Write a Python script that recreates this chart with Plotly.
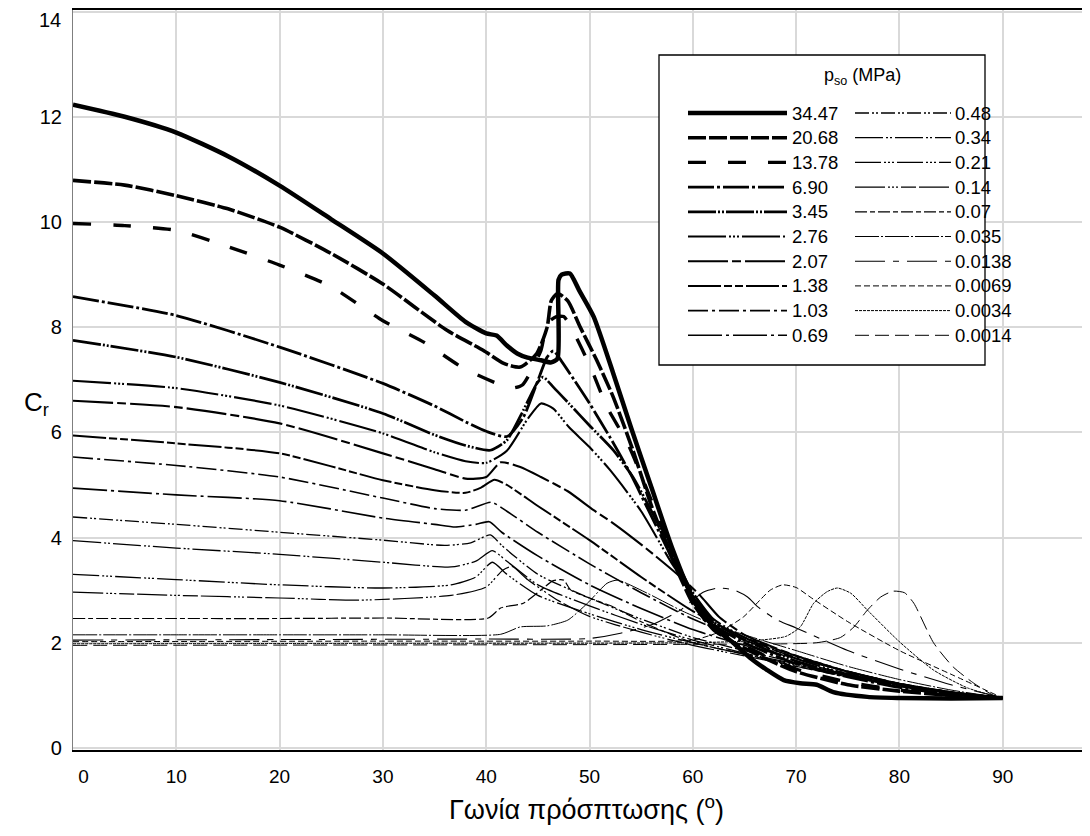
import plotly.graph_objects as go

# ---------------- data ----------------
labels = ["34.47", "20.68", "13.78", "6.90", "3.45", "2.76", "2.07", "1.38", "1.03", "0.69",
          "0.48", "0.34", "0.21", "0.14", "0.07", "0.035", "0.0138", "0.0069", "0.0034", "0.0014"]

x_3447 = [0, 5, 10, 15, 20, 25, 30, 35, 38, 40, 41, 42, 43, 44, 45.3, 46.3, 46.9, 47.0, 47.3, 48.1, 49, 50.4, 52.3, 54, 56, 58, 60, 62, 63.9, 65.5, 67.2, 68.8, 70.4, 72, 73.6, 76.9, 80, 85, 90]
y_3447 = [12.23, 12.0, 11.7, 11.25, 10.69, 10.05, 9.4, 8.6, 8.1, 7.88, 7.84, 7.65, 7.5, 7.42, 7.37, 7.33, 7.4, 8.9, 9.0, 9.02, 8.7, 8.2, 7.12, 6.1, 4.95, 3.8, 2.85, 2.3, 2.0, 1.72, 1.48, 1.29, 1.23, 1.2, 1.06, 0.97, 0.95, 0.94, 0.95]

x_2068 = [0, 5, 10, 15, 20, 25, 30, 36.2, 39.7, 41.7, 43.3, 44.9, 45.9, 46.3, 46.9, 47.9, 49.1, 50.7, 52.3, 54.2, 56, 58, 60, 62, 64, 67, 70, 75, 80, 85, 90]
y_2068 = [10.79, 10.7, 10.5, 10.25, 9.9, 9.4, 8.82, 7.94, 7.56, 7.31, 7.24, 7.5, 8.0, 8.5, 8.64, 8.5, 8.0, 7.37, 6.67, 5.66, 4.6, 3.6, 2.75, 2.25, 2.0, 1.7, 1.45, 1.2, 1.08, 1.0, 0.95]

x_1378 = [0, 5, 10, 15, 20, 25, 30, 34, 37.8, 41.4, 42.5, 43.5, 45.3, 45.9, 46.8, 47.5, 48.2, 50.1, 51.7, 53.7, 56, 58, 60, 62, 64, 67, 70, 75, 80, 85, 90]
y_1378 = [9.97, 9.93, 9.84, 9.53, 9.18, 8.77, 8.12, 7.71, 7.22, 6.9, 6.84, 6.9, 7.56, 8.07, 8.2, 8.2, 8.0, 7.24, 6.48, 5.79, 4.7, 3.7, 2.8, 2.3, 2.05, 1.75, 1.5, 1.25, 1.1, 1.0, 0.95]

x_690 = [0, 10, 20, 30, 35, 38, 40, 42, 43.6, 44.9, 45.9, 46.5, 47.3, 48.5, 50, 52, 54, 56, 58, 60, 62, 65, 70, 75, 80, 85, 90]
y_690 = [8.58, 8.22, 7.62, 6.93, 6.5, 6.2, 6.02, 5.92, 6.29, 6.93, 7.43, 7.55, 7.35, 7.0, 6.55, 5.9, 5.2, 4.4, 3.6, 2.85, 2.35, 2.0, 1.6, 1.35, 1.15, 1.02, 0.95]

x_345 = [0, 10, 20, 30, 35, 38, 40.4, 42, 43.6, 44.9, 45.5, 46.5, 48, 50, 52.3, 54.2, 56, 58, 60, 62, 65, 70, 75, 80, 85, 90]
y_345 = [7.75, 7.43, 6.95, 6.36, 5.95, 5.75, 5.66, 5.85, 6.42, 6.93, 7.05, 6.86, 6.55, 6.13, 5.66, 5.15, 4.5, 3.7, 2.95, 2.4, 2.05, 1.65, 1.38, 1.18, 1.04, 0.95]

x_276 = [0, 10, 20, 30, 35, 38, 40, 42, 44, 45.3, 46.5, 48, 50, 52, 55, 58, 60, 62, 65, 70, 75, 80, 85, 90]
y_276 = [6.98, 6.84, 6.51, 5.98, 5.62, 5.45, 5.42, 5.65, 6.25, 6.55, 6.45, 6.1, 5.72, 5.28, 4.5, 3.5, 2.95, 2.45, 2.1, 1.7, 1.4, 1.2, 1.05, 0.95]

x_207 = [0, 10, 20, 30, 35, 38, 40, 41.4, 43.3, 45.3, 47.9, 50.4, 52.3, 54.2, 56.5, 58.8, 60.7, 62.5, 65, 70, 75, 80, 85, 90]
y_207 = [6.6, 6.48, 6.17, 5.6, 5.3, 5.12, 5.15, 5.43, 5.34, 5.15, 4.88, 4.52, 4.27, 3.99, 3.63, 3.25, 2.9, 2.5, 2.15, 1.75, 1.45, 1.22, 1.06, 0.95]

x_138 = [0, 10, 20, 30, 35, 38, 39.5, 40.8, 42, 45, 50, 55, 60, 65, 70, 75, 80, 85, 90]
y_138 = [5.94, 5.79, 5.6, 5.09, 4.9, 4.85, 4.95, 5.1, 5.0, 4.6, 3.95, 3.25, 2.6, 2.1, 1.75, 1.45, 1.22, 1.06, 0.95]

x_103 = [0, 10, 20, 30, 35, 38, 40.5, 42, 45, 50, 55, 60, 65, 70, 75, 80, 85, 90]
y_103 = [5.53, 5.37, 5.15, 4.75, 4.55, 4.52, 4.67, 4.5, 4.1, 3.5, 2.95, 2.45, 2.05, 1.72, 1.45, 1.22, 1.06, 0.95]

x_069 = [0, 10, 20, 30, 35, 37, 39, 40.3, 41.5, 45, 50, 55, 60, 65, 70, 75, 80, 85, 90]
y_069 = [4.94, 4.81, 4.7, 4.37, 4.25, 4.2, 4.25, 4.3, 4.1, 3.65, 3.1, 2.65, 2.25, 1.95, 1.7, 1.45, 1.22, 1.06, 0.95]

x_048 = [0, 10, 20, 30, 36, 38.5, 40.4, 41.5, 45, 50, 55, 60, 65, 70, 75, 80, 85, 90]
y_048 = [4.39, 4.25, 4.1, 3.95, 3.85, 3.9, 4.05, 3.85, 3.3, 2.85, 2.45, 2.1, 1.85, 1.62, 1.42, 1.2, 1.05, 0.95]

x_034 = [0, 10, 20, 30, 36.6, 39, 40.6, 42, 45, 50, 55, 60, 65, 70, 75, 80, 85, 90]
y_034 = [3.94, 3.8, 3.68, 3.53, 3.44, 3.55, 3.75, 3.55, 3.1, 2.7, 2.35, 2.05, 1.8, 1.6, 1.4, 1.2, 1.05, 0.95]

x_021 = [0, 10, 20, 30, 36.6, 39, 40.6, 42, 45, 50, 55, 60, 65, 70, 75, 80, 85, 90]
y_021 = [3.30, 3.2, 3.1, 3.04, 3.1, 3.25, 3.53, 3.3, 2.9, 2.55, 2.25, 2.0, 1.78, 1.58, 1.38, 1.2, 1.05, 0.95]

x_014 = [0, 10, 20, 27.8, 36.6, 40, 41.6, 42.5, 44, 47, 50, 55, 60, 65, 70, 75, 80, 85, 90]
y_014 = [2.96, 2.9, 2.85, 2.81, 2.9, 3.06, 3.38, 3.45, 3.2, 2.8, 2.5, 2.2, 1.95, 1.75, 1.55, 1.37, 1.2, 1.05, 0.95]

x_007 = [0, 10, 20, 30, 40.2, 41.4, 43.6, 45.3, 46.5, 47.5, 48.2, 52.3, 55, 58, 60, 65, 70, 75, 80, 85, 90]
y_007 = [2.46, 2.46, 2.46, 2.47, 2.47, 2.66, 2.75, 3.0, 3.18, 3.19, 3.0, 2.68, 2.4, 2.15, 2.0, 1.78, 1.55, 1.35, 1.18, 1.05, 0.95]

x_0035 = [0, 10, 20, 30, 41.4, 43.3, 45.9, 47.9, 49.8, 51.7, 52.7, 55.6, 58.8, 61.7, 65, 70, 75, 80, 85, 90]
y_0035 = [2.15, 2.15, 2.15, 2.15, 2.16, 2.3, 2.32, 2.43, 2.75, 3.13, 3.19, 2.94, 2.62, 2.37, 2.15, 1.85, 1.55, 1.3, 1.1, 0.95]

x_00138 = [0, 20, 40, 50, 53, 56, 58.8, 60, 61, 62.4, 64, 65.3, 66.3, 68, 70, 75, 80, 85, 90]
y_00138 = [2.05, 2.06, 2.07, 2.08, 2.18, 2.34, 2.62, 2.81, 2.96, 3.04, 3.0, 2.87, 2.68, 2.45, 2.28, 1.85, 1.5, 1.2, 0.95]

x_00069 = [0, 30, 50, 60, 62.5, 64.9, 66.5, 67.5, 68.7, 70, 71.5, 75, 80, 85, 90]
y_00069 = [2.02, 2.03, 2.03, 2.05, 2.2, 2.49, 2.81, 3.0, 3.1, 3.05, 2.85, 2.4, 1.85, 1.4, 0.95]

x_00034 = [0, 40, 60, 66, 69, 70.4, 71.7, 73, 74, 75.3, 76.9, 80.1, 83.3, 86.6, 90]
y_00034 = [1.98, 1.99, 2.0, 2.04, 2.12, 2.3, 2.75, 2.97, 3.04, 2.94, 2.62, 2.0, 1.48, 1.14, 0.95]

x_00014 = [0, 40, 60, 72, 74.3, 75.6, 76.9, 78.2, 79.4, 80.5, 81.4, 83.3, 85.2, 87.2, 89.1, 90]
y_00014 = [1.95, 1.96, 1.97, 2.0, 2.1, 2.3, 2.62, 2.87, 2.98, 2.95, 2.75, 2.0, 1.54, 1.23, 1.0, 0.95]

xs = [x_3447, x_2068, x_1378, x_690, x_345, x_276, x_207, x_138, x_103, x_069,
      x_048, x_034, x_021, x_014, x_007, x_0035, x_00138, x_00069, x_00034, x_00014]
ys = [y_3447, y_2068, y_1378, y_690, y_345, y_276, y_207, y_138, y_103, y_069,
      y_048, y_034, y_021, y_014, y_007, y_0035, y_00138, y_00069, y_00034, y_00014]

x_ticks = [0, 10, 20, 30, 40, 50, 60, 70, 80, 90]
y_ticks = [0, 2, 4, 6, 8, 10, 12, 14]

# ---------------- styles ----------------
widths = [4.5, 3.6, 3.4, 2.8, 2.7, 2.1, 2.1, 2.0, 1.6, 1.6,
          1.3, 1.3, 1.3, 1.2, 1.2, 1.0, 1.1, 1.0, 1.0, 1.0]
dashes = ["solid", "18px,3px", "18px,22px", "26px,3px,3px,3px", "28px,2px,2px,2px,2px,2px",
          "38px,3px,2px,2px,2px,2px,2px,3px", "40px,4px,9px,4px", "33px,3px,8px,3px,8px,3px",
          "20px,4px,3px,4px", "34px,4px,3px,4px",
          "14px,3px,2px,2px,2px,3px", "28px,3px,2px,2px,2px,3px", "26px,3px,2px,2px,2px,2px,2px,3px",
          "30px,3px,2px,2px,2px,2px,2px,3px,15px,3px", "12px,3px,5px,3px", "24px,2px,2px,2px",
          "30px,8px,6px,8px", "6px,3px", "3px,1px", "14px,6px"]

# The page body adds an 8 px offset; figure sized so that it ends at the window edge.
OFF = 8
W, H = 1082, 828
ML, MT = 73 - OFF, 10 - OFF
MR = 0
MB = H - (750 - OFF)
pw = W - ML - MR
ph = H - MT - MB
FONT = "Liberation Sans, Arial, sans-serif"

fig = go.Figure()
for i in reversed(range(len(labels))):
    fig.add_trace(go.Scatter(
        x=xs[i], y=ys[i], mode="lines", name=labels[i], showlegend=False,
        line=dict(color="black", width=widths[i], dash=dashes[i], shape="spline", smoothing=0.6),
    ))

# ---------------- manual legend (box + samples + text) ----------------
def px_x(p):  # screen pixel -> paper x
    return (p - OFF - ML) / pw

def px_y(p):  # screen pixel -> paper y
    return 1 - (p - OFF - MT) / ph

shapes = [dict(type="rect", xref="paper", yref="paper",
               x0=px_x(659), x1=px_x(985), y0=px_y(365), y1=px_y(55),
               line=dict(color="black", width=1.3), fillcolor="white", layer="above")]
annotations = []
row0, dy = 113, 24.7
for i, lab in enumerate(labels):
    col, row = divmod(i, 10)
    yy = row0 + row * dy
    x0, x1, xt = (688, 787, 790) if col == 0 else (855, 951, 953)
    shapes.append(dict(type="line", xref="paper", yref="paper",
                       x0=px_x(x0), x1=px_x(x1), y0=px_y(yy), y1=px_y(yy),
                       line=dict(color="black", width=widths[i], dash=dashes[i]), layer="above"))
    annotations.append(dict(xref="paper", yref="paper", x=px_x(xt), y=px_y(yy),
                            text=lab, showarrow=False, xanchor="left", yanchor="middle",
                            font=dict(family=FONT, size=18.5, color="black")))
annotations.append(dict(xref="paper", yref="paper", x=px_x(822), y=px_y(77),
                        text="p<sub>so</sub> (MPa)", showarrow=False, xanchor="left", yanchor="middle",
                        font=dict(family=FONT, size=18, color="black")))
# y-axis title
annotations.append(dict(xref="paper", yref="paper", x=px_x(36), y=px_y(403),
                        text="C<sub>r</sub>", showarrow=False, xanchor="center", yanchor="middle",
                        font=dict(family=FONT, size=26, color="black")))
# top y tick label (drawn slightly inside the plot edge, as in the reference)
annotations.append(dict(xref="paper", yref="paper", x=px_x(63), y=px_y(20),
                        text=str(y_ticks[-1]), showarrow=False, xanchor="right", yanchor="middle",
                        font=dict(family=FONT, size=20, color="black")))
# x-axis title
annotations.append(dict(xref="paper", yref="paper", x=px_x(586), y=px_y(808),
                        text="Γωνία πρόσπτωσης (<sup>o</sup>)", showarrow=False,
                        xanchor="center", yanchor="middle",
                        font=dict(family=FONT, size=27, color="black")))

fig.update_layout(
    width=W, height=H,
    margin=dict(l=ML, r=MR, t=MT, b=MB),
    paper_bgcolor="white", plot_bgcolor="white",
    shapes=shapes, annotations=annotations,
    showlegend=False,
)
x_text = [("\u00a0\u00a0\u00a0\u00a0" + str(v)) if v == 0 else str(v) for v in x_ticks]
y_text = ["" if v == y_ticks[-1] else str(v) for v in y_ticks]
fig.update_xaxes(range=[0, pw / 10.33], tickvals=x_ticks, ticktext=x_text,
                 showgrid=True, gridcolor="#d9d9d9", gridwidth=2,
                 showline=True, linecolor="black", linewidth=1.5, mirror=True,
                 ticks="", zeroline=False, ticklabelstandoff=8,
                 tickfont=dict(family=FONT, size=19, color="black"))
fig.update_yaxes(range=[-0.04, 14.03], tickvals=y_ticks, ticktext=y_text,
                 showgrid=True, gridcolor="#d9d9d9", gridwidth=2,
                 showline=True, linecolor="#7f7f7f", linewidth=1.2, mirror=False,
                 ticks="", zeroline=False, ticklabelstandoff=6,
                 tickfont=dict(family=FONT, size=20, color="black"))

fig.write_html("out.html")
